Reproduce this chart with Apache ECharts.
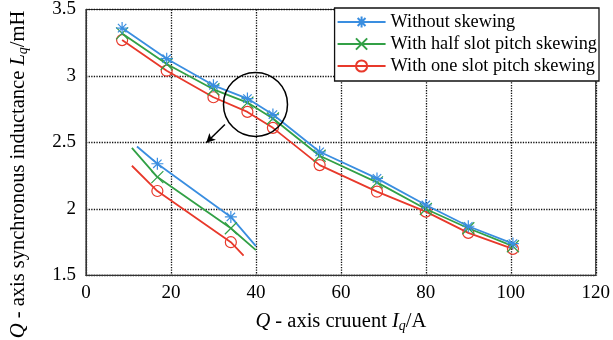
<!DOCTYPE html>
<html>
<head>
<meta charset="utf-8">
<script src="https://cdn.jsdelivr.net/npm/echarts@6/dist/echarts.min.js"></script>
<style>
  html, body { margin: 0; padding: 0; background: #fff; }
  #chart { width: 613px; height: 340px; }
</style>
</head>
<body>
<div id="chart"></div>
<script>
// main curves: q-axis current (A) vs inductance (mH)
var currentA = [8.5, 19, 30, 38, 44, 55, 68.5, 80, 90, 100.5];
var noSkew   = [3.36, 3.13, 2.93, 2.83, 2.71, 2.43, 2.23, 2.03, 1.87, 1.74];
var halfSkew = [3.32, 3.09, 2.90, 2.80, 2.68, 2.40, 2.20, 2.00, 1.855, 1.72];
var oneSkew  = [3.27, 3.04, 2.84, 2.73, 2.61, 2.33, 2.13, 1.98, 1.82, 1.70];

// zoomed inset (drawn in lower-left, same axes)
var insetXBlue  = [12.0, 16.8, 34.1, 40.0];
var insetBlue   = [2.47, 2.34, 1.94, 1.72];
var insetXGreen = [10.8, 16.8, 34.1, 40.0];
var insetGreen  = [2.46, 2.24, 1.855, 1.69];
var insetXRed   = [10.8, 16.8, 34.1, 37.1];
var insetRed    = [2.325, 2.135, 1.75, 1.65];

var xTicks = [0, 120, 20];
var yTicks = [1.5, 3.5, 0.5];

var names = ['Without skewing', 'With half slot pitch skewing', 'With one slot pitch skewing'];
var colors = ['#3a8ee0', '#32a046', '#e8392b'];
var star = 'path://M0,-10L0,10M-10,0L10,0M-7,-7L7,7M-7,7L7,-7';
var cross = 'path://M-10,-10L10,10M-10,10L10,-10';
var symbols = [star, cross, 'circle'];

function pairs(xs, ys) {
  return xs.map(function (x, i) { return [x, ys[i]]; });
}

var serif = 'Liberation Serif';

function mainSeries(idx, ys) {
  return {
    name: names[idx],
    type: 'line',
    data: pairs(currentA, ys),
    symbol: symbols[idx],
    symbolSize: idx === 2 ? 11 : 12,
    showSymbol: true,
    z: 3 - idx,
    lineStyle: { color: colors[idx], width: 1.8 },
    itemStyle: {
      color: idx === 2 ? 'transparent' : colors[idx],
      borderColor: colors[idx],
      borderWidth: 1.2
    }
  };
}

function insetSeries(idx, xs, ys) {
  return {
    name: 'inset' + idx,
    type: 'line',
    data: pairs(xs, ys),
    symbol: function (v, p) {
      return (p.dataIndex === 0 || p.dataIndex === xs.length - 1) ? 'none' : symbols[idx];
    },
    symbolSize: idx === 2 ? 11 : 12,
    lineStyle: { color: colors[idx], width: 1.8 },
    itemStyle: {
      color: idx === 2 ? 'transparent' : colors[idx],
      borderColor: colors[idx],
      borderWidth: 1.2
    }
  };
}

var richName = {
  i: { fontFamily: serif, fontSize: 20.5, fontStyle: 'italic', color: '#000' },
  sub: { fontFamily: serif, fontSize: 14, fontStyle: 'italic', color: '#000', padding: [9, 0, 0, 0] }
};

var myChart = echarts.init(document.getElementById('chart'));

var option = {
  animation: false,
  backgroundColor: '#fff',
  grid: {
    left: 80, right: 13, top: 7, bottom: 64,
    show: true, borderColor: '#333', borderWidth: 1.2
  },
  legend: {
    data: names,
    orient: 'vertical',
    right: 14, top: 8,
    itemWidth: 48, itemHeight: 14, itemGap: 2,
    padding: [4, 2, 5, 2],
    backgroundColor: '#fff',
    borderColor: '#111', borderWidth: 1.3,
    textStyle: { fontFamily: serif, fontSize: 18.3, lineHeight: 20, color: '#000' }
  },
  xAxis: {
    type: 'value',
    min: xTicks[0], max: xTicks[1], interval: xTicks[2],
    axisLine: { show: true, lineStyle: { color: '#333' } },
    axisTick: { show: false },
    axisLabel: { color: '#000', fontFamily: serif, fontSize: 19, margin: 8 },
    splitLine: { show: true, lineStyle: { color: '#111', type: 'dotted', width: 1.3 } },
    name: '{i|Q} - axis cruuent {i|I}{sub|q}/A',
    nameLocation: 'middle',
    nameGap: 35,
    nameTextStyle: { color: '#000', fontFamily: serif, fontSize: 20.5, rich: richName }
  },
  yAxis: {
    type: 'value',
    min: yTicks[0], max: yTicks[1], interval: yTicks[2],
    axisLine: { show: true, lineStyle: { color: '#333' } },
    axisTick: { show: false },
    axisLabel: { color: '#000', fontFamily: serif, fontSize: 19, margin: 10 },
    splitLine: { show: true, lineStyle: { color: '#111', type: 'dotted', width: 1.3 } },
    name: '{i|Q} - axis synchronous inductance {i|L}{sub|q}/mH',
    nameLocation: 'middle',
    nameGap: 56,
    nameTextStyle: {
      color: '#000', fontFamily: serif, fontSize: 20.5,
      padding: [0, 64, 0, 0],
      rich: richName
    }
  },
  series: [
    mainSeries(0, noSkew),
    mainSeries(1, halfSkew),
    Object.assign(mainSeries(2, oneSkew), {
      markPoint: {
        silent: true,
        symbol: 'circle',
        symbolSize: 64,
        label: { show: false },
        itemStyle: { color: 'transparent', borderColor: '#000', borderWidth: 1.5 },
        data: [{ coord: [39.9, 2.786] }]
      },
      markLine: {
        silent: true,
        symbol: ['none', 'arrow'],
        symbolSize: [7, 9],
        label: { show: false },
        lineStyle: { color: '#000', width: 1.5, type: 'solid' },
        data: [[{ coord: [32.7, 2.635] }, { coord: [28.3, 2.498] }]]
      }
    }),
    insetSeries(0, insetXBlue, insetBlue),
    insetSeries(1, insetXGreen, insetGreen),
    insetSeries(2, insetXRed, insetRed)
  ]
};

myChart.setOption(option);
</script>
</body>
</html>
